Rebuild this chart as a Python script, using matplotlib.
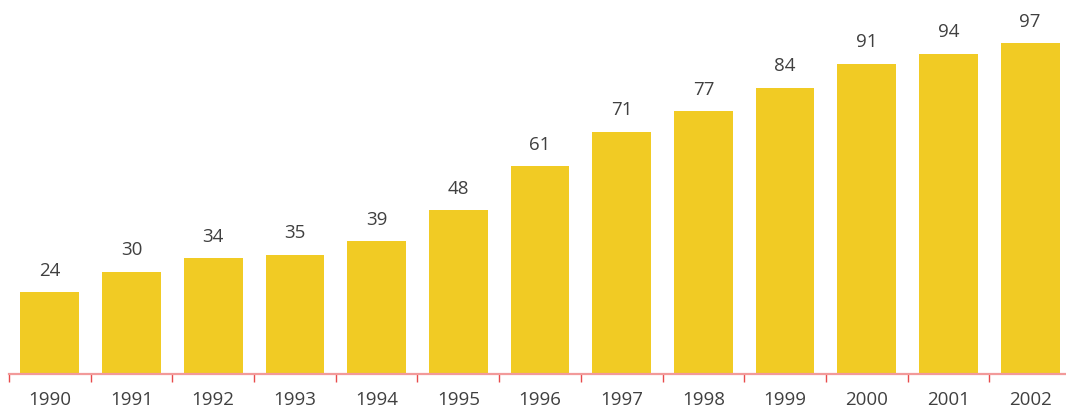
import matplotlib.pyplot as plt
import numpy as np

# Data
years = ["1990", "1991", "1992", "1993", "1994", "1995", "1996",
         "1997", "1998", "1999", "2000", "2001", "2002"]
values = [24, 30, 34, 35, 39, 48, 61, 71, 77, 84, 91, 94, 97]

plt.rcParams['font.family'] = ['Open Sans', 'DejaVu Sans']

fig = plt.figure(figsize=(10.66, 4.12), dpi=100)
ax = fig.add_axes([9 / 1066, 38 / 412, 1062 / 1066, 374 / 412])

x = np.arange(len(years))
ax.bar(x, values, width=0.72, color="#F1CB24", zorder=2)

for xi, v in zip(x, values):
    ax.annotate(str(v), (xi, v), xytext=(0, 9), textcoords="offset points",
                ha="center", va="bottom", fontsize=13.5, color="#404040")

ax.set_xlim(-0.5, len(years) - 0.5)
ax.set_ylim(0, 109.7)

# x axis: red line, ticks between categories
for s in ["top", "right", "left"]:
    ax.spines[s].set_visible(False)
ax.spines["bottom"].set_color("#F29A9A")
ax.spines["bottom"].set_linewidth(1.6)
ax.spines["bottom"].set_zorder(3)

ax.set_yticks([])
ax.set_xticks(x)
ax.set_xticklabels(years, fontsize=13.5, color="#404040")
ax.tick_params(axis="x", which="major", length=0, pad=12)
ax.set_xticks(np.arange(len(years) + 1) - 0.5, minor=True)
ax.tick_params(axis="x", which="minor", length=6, width=1, color="#E84B4B")

fig.savefig("out.png", dpi=100)
